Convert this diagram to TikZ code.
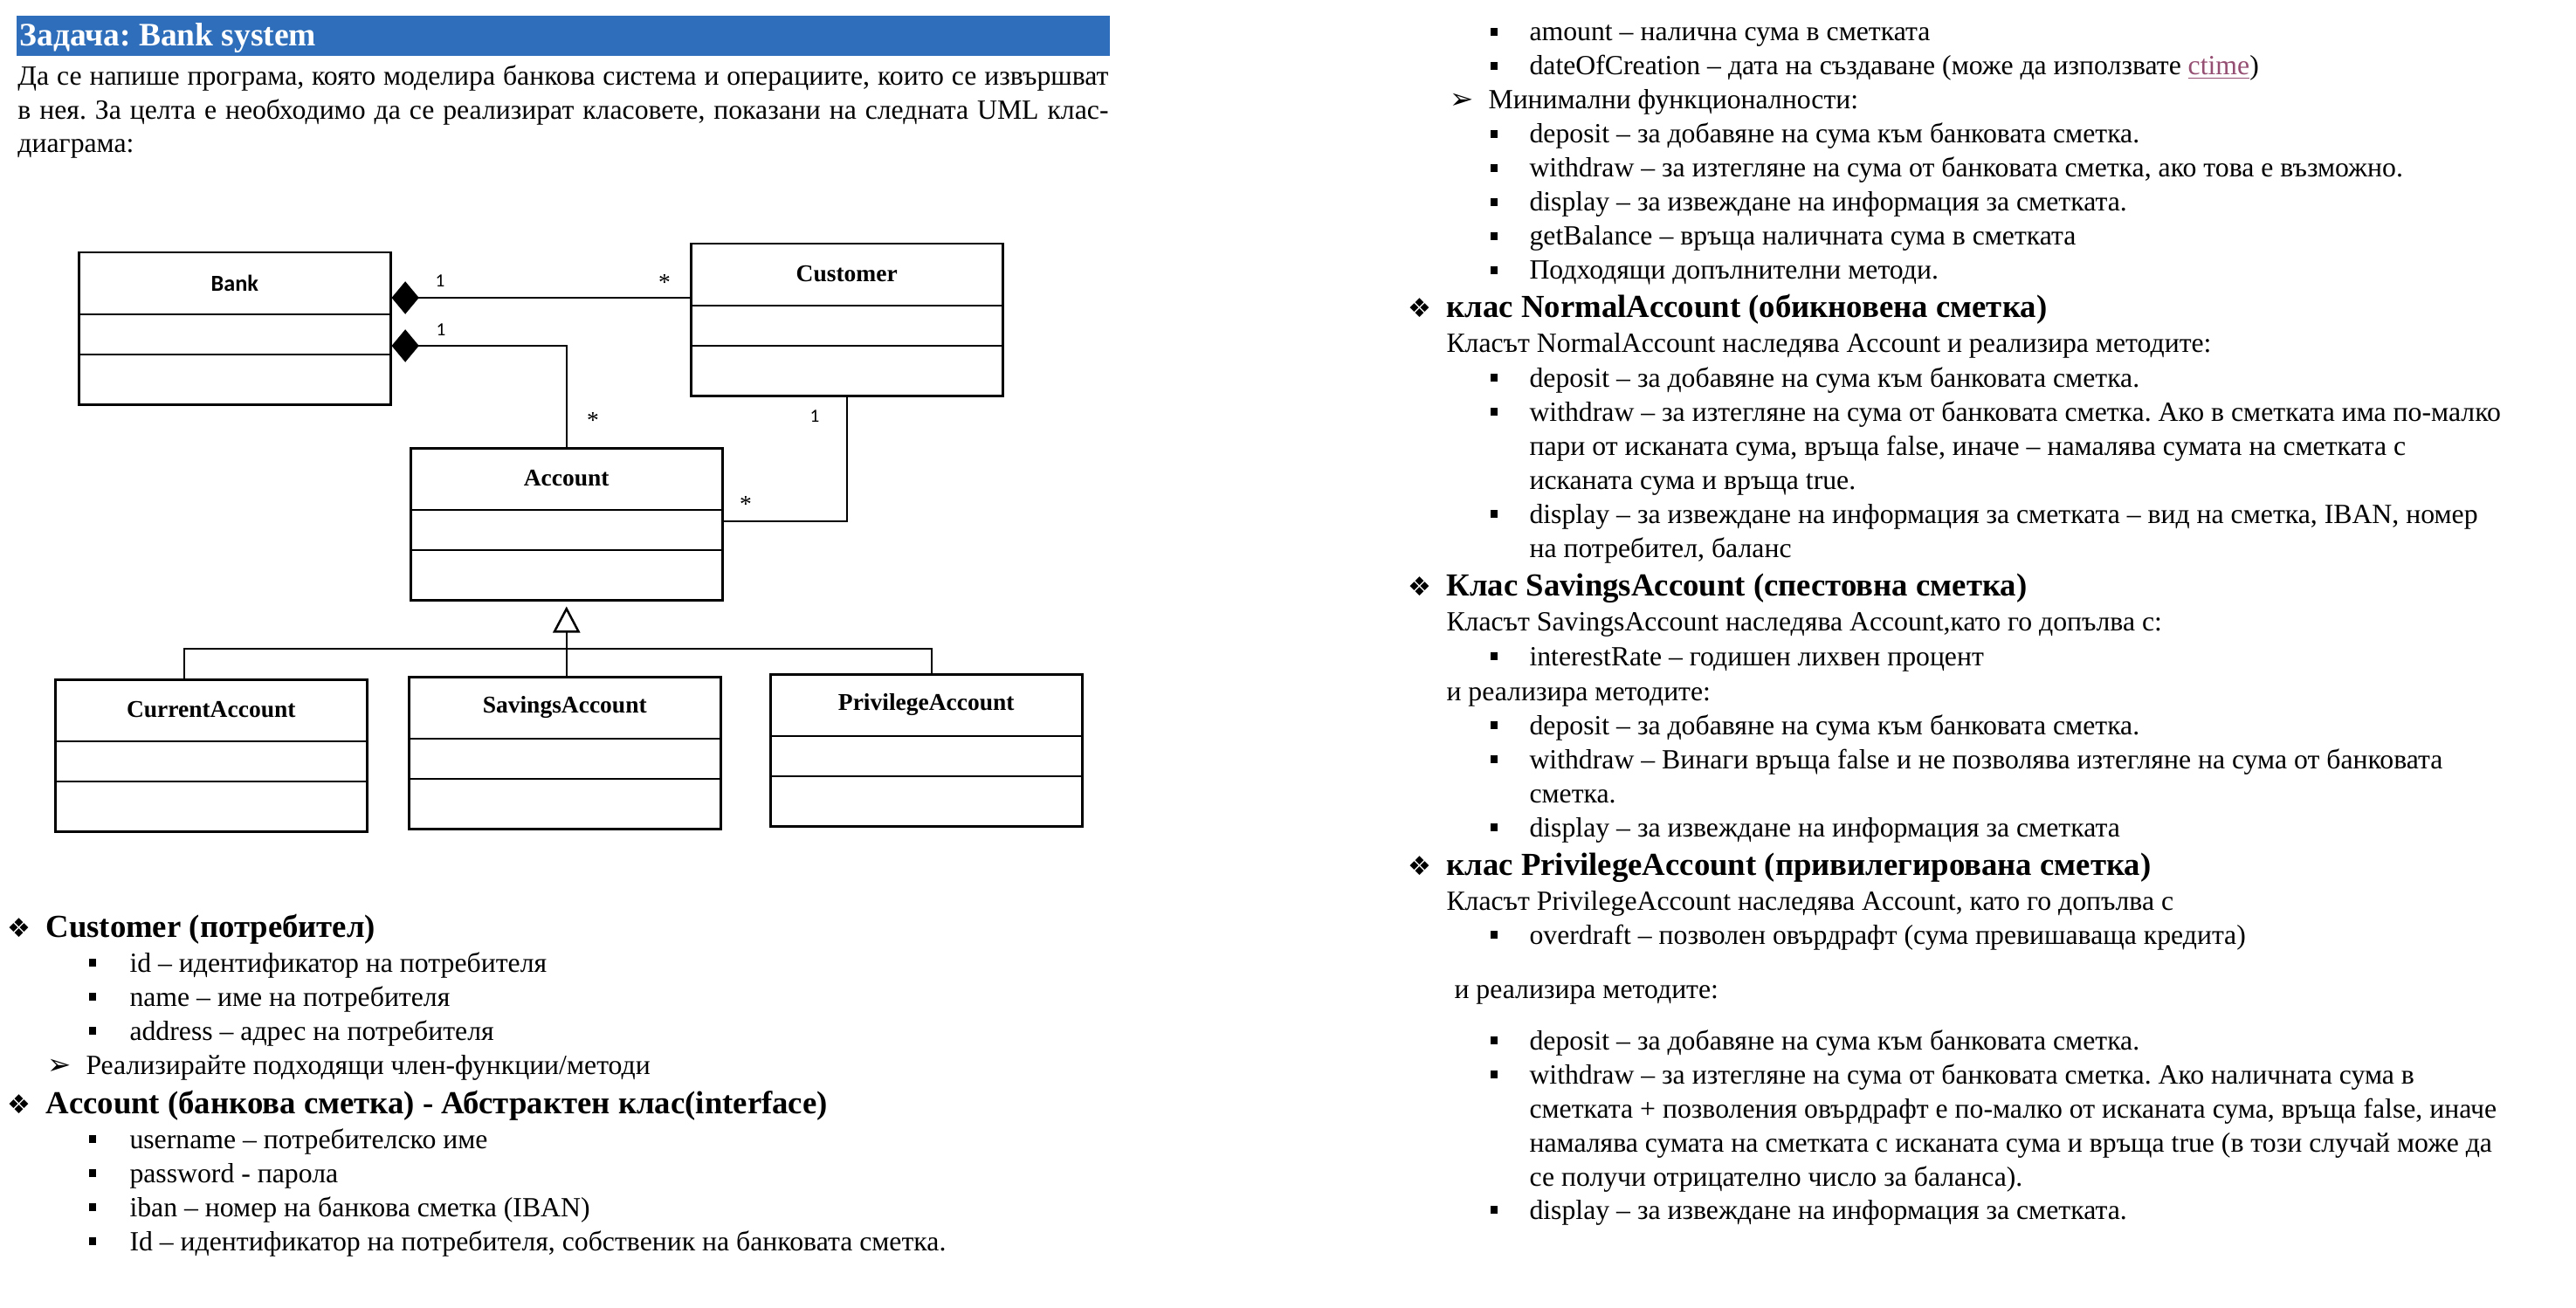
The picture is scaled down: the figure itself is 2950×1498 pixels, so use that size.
\documentclass[tikz,border=0pt]{standalone}
\usepackage{fontspec}
\setmainfont{Liberation Serif}
\newfontfamily\symf{DejaVu Sans}
\newfontfamily\carl{Carlito}
\usetikzlibrary{arrows.meta,calc}
\definecolor{titleblue}{RGB}{47,110,186}
\definecolor{linkc}{RGB}{149,79,114}
\frenchspacing
\newcommand\txl[4]{\node[body] (#1) at (#2,#3) {#4};}
\newcommand\hdl[4]{\node[head] (#1) at (#2,#3) {#4};}
\newcommand\sqb[3]{\node[sqbul] (#1) at (#2,{#3-10.5}) {};}
\newcommand\dia[3]{\node[diasym] (#1) at (#2,#3) {❖};}
\newcommand\arr[3]{\node[arrsym] (#1) at (#2,#3) {➢};}
\newcommand\umlcls[5]{%
  \node[umlbox] (#1) at (#2,#3) {};
  \draw[ln] ($(#1.north west)+(0,72)$) -- ($(#1.north east)+(0,72)$);
  \draw[ln] ($(#1.north west)+(0,118)$) -- ($(#1.north east)+(0,118)$);
  \node[clsname,font=#5] (#1-name) at ($(#1.north)+(0,36)$) {#4};}
\begin{document}
\begin{tikzpicture}[x=0.4pt,y=-0.4pt,
  body/.style={anchor=base west,inner sep=0pt,font=\fontsize{12.7}{14}\selectfont},
  head/.style={anchor=base west,inner sep=0pt,font=\fontsize{14.7}{17}\selectfont\bfseries},
  sqbul/.style={fill=black,minimum size=3.4pt,inner sep=0pt},
  diasym/.style={anchor=base west,inner sep=0pt,font=\symf\fontsize{12}{14}\selectfont},
  arrsym/.style={anchor=base west,inner sep=0pt,font=\symf\fontsize{13}{14}\selectfont},
  umlbox/.style={draw,line width=1pt,anchor=north west,minimum width=142.8pt,minimum height=69.6pt,inner sep=0pt},
  ln/.style={line width=1pt},
  clsname/.style={inner sep=0pt,anchor=center},
  mone/.style={inner sep=0pt,font=\carl\fontsize{8.5}{10}\selectfont},
  mstar/.style={inner sep=0pt,font=\fontsize{11}{12}\selectfont},
  comp/.style={ln,{Diamond[length=12.5pt,width=15pt]}-},
  gen/.style={ln,-{Triangle[open,length=12pt,width=12.4pt,fill=white]}}
]
\useasboundingbox (0,0) rectangle (2950,1498);
\fill[white] (0,0) rectangle (2950,1498);

% ---------- title and intro ----------
\node[fill=titleblue,anchor=north west,minimum width=500.8pt,minimum height=18.4pt,inner sep=0pt] (bar) at (18,18) {};
\node[anchor=base west,inner sep=0pt,text=white,font=\fontsize{15}{17}\selectfont\bfseries] (title) at (22,53) {Задача: Bank system};
\node[body] (p1) at (20,98) {\makebox[499.6pt][s]{Да се напише програма, която моделира банкова система и операциите, които се извършват}};
\node[body] (p2) at (20,137) {\makebox[499.6pt][s]{в нея. За целта е необходимо да се реализират класовете, показани на следната UML клас-}};
\txl{p3}{20}{175}{диаграма:}

% ---------- UML diagram ----------
\umlcls{bank}{89}{288}{Bank}{\carl\bfseries\fontsize{10.5}{12}\selectfont}
\umlcls{cust}{790}{278}{Customer}{\bfseries\fontsize{11}{12}\selectfont}
\umlcls{acc}{469}{512}{Account}{\bfseries\fontsize{11}{12}\selectfont}
\umlcls{cur}{62}{777}{CurrentAccount}{\bfseries\fontsize{11}{12}\selectfont}
\umlcls{sav}{467}{774}{SavingsAccount}{\bfseries\fontsize{11}{12}\selectfont}
\umlcls{prv}{881}{771}{PrivilegeAccount}{\bfseries\fontsize{11}{12}\selectfont}

\draw[comp] ($(bank.north east)+(0,53)$) coordinate (b1) -- (b1 -| cust.west);
\draw[comp] ($(bank.north east)+(0,108)$) coordinate (b2) -- (b2 -| acc.north) -- (acc.north);
\draw[ln] ($(acc.north east)+(0,85)$) coordinate (a3) -| (cust.south);

\coordinate (hl) at (211,743);
\coordinate (hr) at (1067,743);
\draw[ln] (hl |- cur.north) -- (hl) -- (hr) -- (hr |- prv.north);
\draw[gen,shorten >=2.4pt] (acc.south |- sav.north) -- (acc.south);

\node[mone] (m1) at (504,322) {1};
\node[mstar] (m2) at (761,323) {*};
\node[mone] (m3) at (505,378) {1};
\node[mstar] (m4) at (679,481) {*};
\node[mone] (m5) at (933,477) {1};
\node[mstar] (m6) at (854,577) {*};

% ---------- left column text ----------
\dia{d1}{8}{1073}\hdl{h1}{52}{1073}{Customer (потребител)}
\sqb{s1}{106}{1113}\txl{t1}{148}{1113}{id – идентификатор на потребителя}
\sqb{s2}{106}{1152}\txl{t2}{148}{1152}{name – име на потребителя}
\sqb{s3}{106}{1191}\txl{t3}{148}{1191}{address – адрес на потребителя}
\arr{a1}{54}{1230}\txl{t4}{98}{1230}{Реализирайте подходящи член-функции/методи}
\dia{d2}{8}{1275}\hdl{h2}{52}{1275}{Account (банкова сметка) - Абстрактен клас(interface)}
\sqb{s5}{106}{1315}\txl{t5}{148}{1315}{username – потребителско име}
\sqb{s6}{106}{1354}\txl{t6}{148}{1354}{password - парола}
\sqb{s7}{106}{1393}\txl{t7}{148}{1393}{iban – номер на банкова сметка (IBAN)}
\sqb{s8}{106}{1432}\txl{t8}{148}{1432}{Id – идентификатор на потребителя, собственик на банковата сметка.}

% ---------- right column text ----------
\sqb{r1b}{1711}{47}\txl{r1}{1751}{47}{amount – налична сума в сметката}
\sqb{r2b}{1711}{86}\txl{r2}{1751}{86}{dateOfCreation – дата на създаване (може да използвате \textcolor{linkc}{\underline{ctime}})}
\arr{ra1}{1660}{125}\txl{r3}{1704}{125}{Минимални функционалности:}
\sqb{r4b}{1711}{164}\txl{r4}{1751}{164}{deposit – за добавяне на сума към банковата сметка.}
\sqb{r5b}{1711}{203}\txl{r5}{1751}{203}{withdraw – за изтегляне на сума от банковата сметка, ако това е възможно.}
\sqb{r6b}{1711}{242}\txl{r6}{1751}{242}{display – за извеждане на информация за сметката.}
\sqb{r7b}{1711}{281}\txl{r7}{1751}{281}{getBalance – връща наличната сума в сметката}
\sqb{r8b}{1711}{320}\txl{r8}{1751}{320}{Подходящи допълнителни методи.}

\dia{rd1}{1612}{363}\hdl{rh1}{1656}{363}{клас NormalAccount (обикновена сметка)}
\txl{n0}{1656}{403}{Класът NormalAccount наследява Account и реализира методите:}
\sqb{n1b}{1711}{443}\txl{n1}{1751}{443}{deposit – за добавяне на сума към банковата сметка.}
\sqb{n2b}{1711}{482}\txl{n2}{1751}{482}{withdraw – за изтегляне на сума от банковата сметка. Ако в сметката има по-малко}
\txl{n3}{1751}{521}{пари от исканата сума, връща false, иначе – намалява сумата на сметката с}
\txl{n4}{1751}{560}{исканата сума и връща true.}
\sqb{n5b}{1711}{599}\txl{n5}{1751}{599}{display – за извеждане на информация за сметката – вид на сметка, IBAN, номер}
\txl{n6}{1751}{638}{на потребител, баланс}

\dia{rd2}{1612}{682}\hdl{rh2}{1656}{682}{Клас SavingsAccount (спестовна сметка)}
\txl{v0}{1656}{722}{Класът SavingsAccount наследява Account,като го допълва с:}
\sqb{v1b}{1711}{762}\txl{v1}{1751}{762}{interestRate – годишен лихвен процент}
\txl{v2}{1656}{802}{и реализира методите:}
\sqb{v3b}{1711}{841}\txl{v3}{1751}{841}{deposit – за добавяне на сума към банковата сметка.}
\sqb{v4b}{1711}{880}\txl{v4}{1751}{880}{withdraw – Винаги връща false и не позволява изтегляне на сума от банковата}
\txl{v5}{1751}{919}{сметка.}
\sqb{v6b}{1711}{958}\txl{v6}{1751}{958}{display – за извеждане на информация за сметката}

\dia{rd3}{1612}{1002}\hdl{rh3}{1656}{1002}{клас PrivilegeAccount (привилегирована сметка)}
\txl{w0}{1656}{1042}{Класът PrivilegeAccount наследява Account, като го допълва с}
\sqb{w1b}{1711}{1081}\txl{w1}{1751}{1081}{overdraft – позволен овърдрафт (сума превишаваща кредита)}
\txl{w2}{1665}{1143}{и реализира методите:}
\sqb{w3b}{1711}{1202}\txl{w3}{1751}{1202}{deposit – за добавяне на сума към банковата сметка.}
\sqb{w4b}{1711}{1241}\txl{w4}{1751}{1241}{withdraw – за изтегляне на сума от банковата сметка. Ако наличната сума в}
\txl{w5}{1751}{1280}{сметката + позволения овърдрафт е по-малко от исканата сума, връща false, иначе}
\txl{w6}{1751}{1319}{намалява сумата на сметката с исканата сума и връща true (в този случай може да}
\txl{w7}{1751}{1358}{се получи отрицателно число за баланса).}
\sqb{w8b}{1711}{1396}\txl{w8}{1751}{1396}{display – за извеждане на информация за сметката.}
\end{tikzpicture}
\end{document}
